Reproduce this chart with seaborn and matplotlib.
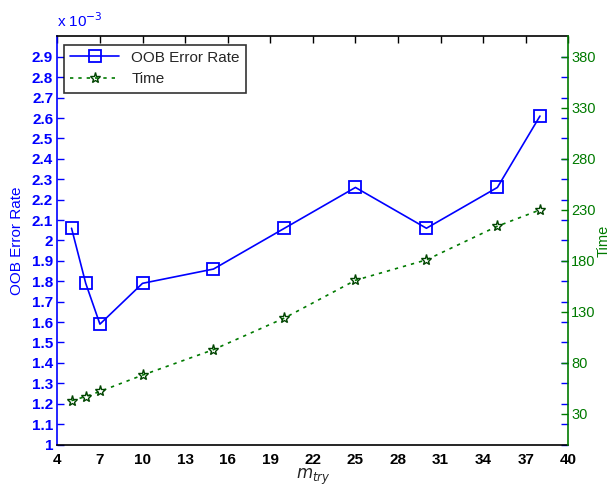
import numpy as np
import pandas as pd
import matplotlib
matplotlib.use("Agg")
import matplotlib.pyplot as plt
import seaborn as sns

# данные
mtry = [5, 6, 7, 10, 15, 20, 25, 30, 35, 38]
oob_error = [2.06, 1.79, 1.59, 1.79, 1.86, 2.06, 2.26, 2.06, 2.26, 2.61]  # x 1e-3
time_vals = [43, 47, 52, 68, 93, 124, 161, 181, 214, 230]

x_ticks = [4, 7, 10, 13, 16, 19, 22, 25, 28, 31, 34, 37, 40]
left_ticks = [1.0, 1.1, 1.2, 1.3, 1.4, 1.5, 1.6, 1.7, 1.8, 1.9,
              2.0, 2.1, 2.2, 2.3, 2.4, 2.5, 2.6, 2.7, 2.8, 2.9]
right_ticks = [30, 80, 130, 180, 230, 280, 330, 380]

df = pd.DataFrame({"mtry": mtry, "oob": oob_error, "time": time_vals})

sns.set_style("white")
plt.rcParams["font.family"] = ["Liberation Sans", "DejaVu Sans"]

BLUE = "#0000ff"
GREEN = "#007a00"

fig = plt.figure(figsize=(6.12, 4.91), dpi=100)
ax1 = fig.add_axes([0.0937, 0.0947, 0.835, 0.831])
ax2 = ax1.twinx()

sns.lineplot(data=df, x="mtry", y="oob", ax=ax1, color=BLUE, marker="s",
             markersize=8, markerfacecolor="none", markeredgecolor=BLUE,
             markeredgewidth=1.3, linewidth=1.2, legend=False)
sns.lineplot(data=df, x="mtry", y="time", ax=ax2, color=GREEN, marker="*",
             markersize=8, markerfacecolor="none", markeredgecolor="#004400",
             markeredgewidth=1.0, linewidth=1.2, linestyle=(0, (2, 3)),
             legend=False)

ax1.set_xlim(4, 40)
ax1.set_ylim(1.0, 3.0)
ax2.set_ylim(0, 400)

ax1.set_xticks(x_ticks)
ax1.set_xticklabels([str(t) for t in x_ticks], fontsize=11, fontweight="bold")
ax1.set_yticks(left_ticks)
ax1.set_yticklabels(["%g" % t for t in left_ticks], fontsize=11,
                    fontweight="bold", color=BLUE)
ax2.set_yticks(right_ticks)
ax2.set_yticklabels([str(t) for t in right_ticks], fontsize=10.5, color=GREEN)

ax1.tick_params(axis="x", direction="in", top=True, length=5, width=1,
                colors="black", pad=6)
ax1.tick_params(axis="y", direction="in", right=True, length=5, width=1,
                color=BLUE, pad=3)
ax2.tick_params(axis="y", direction="in", length=5, width=1, color=GREEN,
                pad=2)

for s in ["top", "bottom"]:
    ax1.spines[s].set_color("black")
    ax2.spines[s].set_visible(False)
ax1.spines["left"].set_color(BLUE)
ax1.spines["right"].set_visible(False)
ax2.spines["left"].set_visible(False)
ax2.spines["right"].set_color(GREEN)
for ax in (ax1, ax2):
    for s in ax.spines.values():
        s.set_linewidth(1.2)

ax1.set_xlabel("$m_{try}$", fontsize=12, labelpad=0)
ax1.set_ylabel("OOB Error Rate", fontsize=11, color=BLUE, labelpad=6)
ax2.set_ylabel("Time", fontsize=10.5, color=GREEN, labelpad=1)
ax1.text(0.0, 1.015, "x 10$^{-3}$", transform=ax1.transAxes, fontsize=11,
         color=BLUE, ha="left", va="bottom")

handles = ax1.get_lines()[:1] + ax2.get_lines()[:1]
leg = ax1.legend(handles, ["OOB Error Rate", "Time"], loc="upper left",
                 bbox_to_anchor=(0.013, 0.98), fontsize=11, frameon=True,
                 fancybox=False, edgecolor="black", handlelength=3.2,
                 borderpad=0.4, labelspacing=0.5, borderaxespad=0)
leg.get_frame().set_linewidth(1.2)
leg.set_zorder(10)

fig.savefig("out.png", dpi=100)
